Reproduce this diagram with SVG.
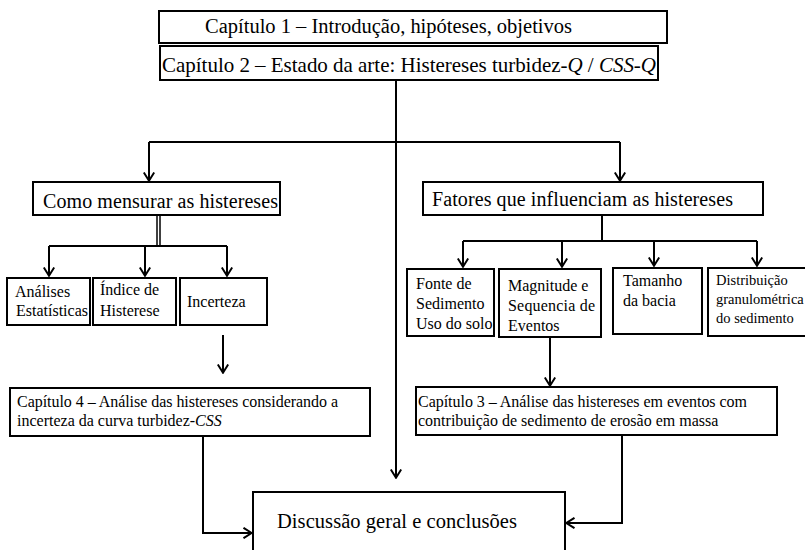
<svg xmlns="http://www.w3.org/2000/svg" width="805" height="550" viewBox="0 0 805 550">
<defs>
<marker id="arr" viewBox="0 0 10 12" refX="9.5" refY="6" markerWidth="10" markerHeight="12" markerUnits="userSpaceOnUse" orient="auto">
<path d="M1,0.8 L9.2,6 L1,11.2" fill="none" stroke="#000" stroke-width="2"/>
</marker>
<style>
rect{fill:#fff;stroke:#000;stroke-width:2}
.c line,.c path{stroke:#000;stroke-width:2;fill:none}
.a{marker-end:url(#arr)}
</style>
</defs>
<rect x="0" y="0" width="805" height="550" style="fill:#fff;stroke:none"/>
<g class="c" id="connectors">
<line x1="396" y1="80" x2="396" y2="478" class="a"/>
<path d="M149,142 H620"/>
<line x1="149" y1="142" x2="149" y2="181" class="a"/>
<line x1="620" y1="142" x2="620" y2="181" class="a"/>
<line x1="157" y1="215" x2="157" y2="246" style="stroke-width:1.5"/>
<line x1="160" y1="215" x2="160" y2="246" style="stroke-width:1.5"/>
<path d="M49,246 H227"/>
<line x1="49" y1="246" x2="49" y2="276" class="a"/>
<line x1="145" y1="246" x2="145" y2="276" class="a"/>
<line x1="227" y1="246" x2="227" y2="276" class="a"/>
<line x1="602" y1="215" x2="602" y2="241"/>
<path d="M463,241 H757"/>
<line x1="463" y1="241" x2="463" y2="267" class="a"/>
<line x1="562" y1="241" x2="562" y2="267" class="a"/>
<line x1="654" y1="241" x2="654" y2="266" class="a"/>
<line x1="757" y1="241" x2="757" y2="266" class="a"/>
<line x1="223" y1="335" x2="223" y2="373" class="a"/>
<line x1="550" y1="338" x2="550" y2="386" class="a"/>
<path d="M203,436 V533 H252" class="a"/>
<path d="M622,435 V523 H566" class="a"/>
</g>
<g id="cap1"><rect x="159" y="11" width="508" height="32"/><text font-family="Liberation Serif" font-size="20.5" x="205" y="33" textLength="367">Capítulo 1 – Introdução, hipóteses, objetivos</text></g>
<g id="cap2"><rect x="160" y="46" width="498" height="34"/><text font-family="Liberation Serif" font-size="21" x="162" y="72" textLength="494">Capítulo 2 – Estado da arte: Histereses turbidez-<tspan font-style="italic">Q</tspan> / <tspan font-style="italic">CSS</tspan>-<tspan font-style="italic">Q</tspan></text></g>
<g id="como"><rect x="33" y="182" width="247" height="33"/><text font-family="Liberation Serif" font-size="20" x="43" y="208" textLength="235">Como mensurar as histereses</text></g>
<g id="fatores"><rect x="423" y="182" width="340" height="33"/><text font-family="Liberation Serif" font-size="20" x="432" y="206" textLength="301">Fatores que influenciam as histereses</text></g>
<g id="analises"><rect x="7" y="278" width="83" height="47"/><text font-family="Liberation Serif" font-size="16" x="15" y="297">Análises</text><text font-family="Liberation Serif" font-size="16" x="16" y="316">Estatísticas</text></g>
<g id="indice"><rect x="93" y="278" width="83" height="47"/><text font-family="Liberation Serif" font-size="16" x="100" y="295">Índice de</text><text font-family="Liberation Serif" font-size="16" x="100" y="316">Histerese</text></g>
<g id="incerteza"><rect x="180" y="278" width="87" height="47"/><text font-family="Liberation Serif" font-size="16" x="187" y="307">Incerteza</text></g>
<g id="fonte"><rect x="407" y="269" width="87" height="67"/><text font-family="Liberation Serif" font-size="16" x="416" y="289">Fonte de</text><text font-family="Liberation Serif" font-size="16" x="416" y="309">Sedimento</text><text font-family="Liberation Serif" font-size="16" x="416" y="329">Uso do solo</text></g>
<g id="magnitude"><rect x="499" y="269" width="102" height="68"/><text font-family="Liberation Serif" font-size="16" x="508" y="291">Magnitude e</text><text font-family="Liberation Serif" font-size="16" x="508" y="311" textLength="87">Sequencia de</text><text font-family="Liberation Serif" font-size="16" x="508" y="331">Eventos</text></g>
<g id="tamanho"><rect x="613" y="268" width="89" height="66"/><text font-family="Liberation Serif" font-size="16" x="623" y="286">Tamanho</text><text font-family="Liberation Serif" font-size="16" x="623" y="306">da bacia</text></g>
<g id="distribuicao"><rect x="708" y="268" width="100" height="68"/><text font-family="Liberation Serif" font-size="14.5" x="716" y="285">Distribuição</text><text font-family="Liberation Serif" font-size="14.5" x="716" y="304">granulométrica</text><text font-family="Liberation Serif" font-size="14.5" x="716" y="323">do sedimento</text></g>
<g id="cap4"><rect x="10" y="388" width="360" height="48"/><text font-family="Liberation Serif" font-size="16" x="17" y="407" textLength="321">Capítulo 4 – Análise das histereses considerando a</text><text font-family="Liberation Serif" font-size="16" x="17" y="426">incerteza da curva turbidez-<tspan font-style="italic">CSS</tspan></text></g>
<g id="cap3"><rect x="416" y="387" width="361" height="48"/><text font-family="Liberation Serif" font-size="16" x="418" y="407" textLength="329">Capítulo 3 – Análise das histereses em eventos com</text><text font-family="Liberation Serif" font-size="16" x="418" y="426">contribuição de sedimento de erosão em massa</text></g>
<g id="discussao"><rect x="253" y="492" width="312" height="70"/><text font-family="Liberation Serif" font-size="20.5" x="277" y="528" textLength="240">Discussão geral e conclusões</text></g>
</svg>
